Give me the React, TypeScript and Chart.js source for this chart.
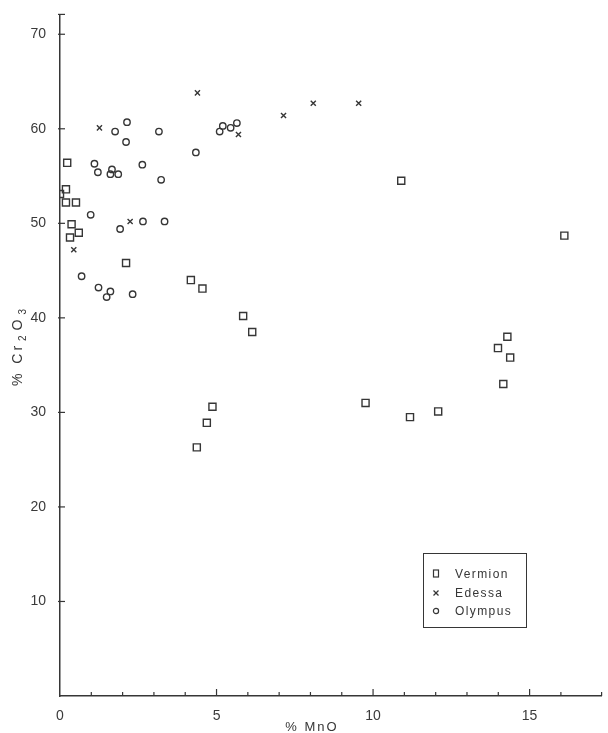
import React, { useEffect, useRef } from 'react';
import { Chart, registerables } from 'chart.js';

Chart.register(...registerables);

// % MnO (x) and % Cr2O3 (y) for each group
const vermionMnO = [0.23, 0.19, 0.0, 0.19, 0.51, 0.37, 0.6, 0.32, 2.11, 4.18, 4.55, 5.85, 6.14, 4.87, 4.69, 4.37, 9.76, 10.9, 16.11, 14.29, 13.99, 14.38, 14.16, 11.18, 12.08];
const vermionCr2O3 = [56.4, 53.6, 53.1, 52.2, 52.2, 49.9, 49.0, 48.5, 45.8, 44.0, 43.1, 40.2, 38.5, 30.6, 28.9, 26.3, 31.0, 54.5, 48.7, 38.0, 36.8, 35.8, 33.0, 29.5, 30.1];

const edessaMnO = [1.26, 4.39, 2.24, 0.44, 5.7, 7.14, 8.09, 9.54];
const edessaCr2O3 = [60.1, 63.8, 50.2, 47.2, 59.4, 61.4, 62.7, 62.7];

const olympusMnO = [1.76, 2.14, 2.11, 3.16, 4.34, 1.1, 1.21, 1.66, 1.61, 1.86, 2.63, 3.23, 0.98, 1.92, 2.65, 3.34, 0.69, 1.23, 1.61, 1.49, 2.32, 5.1, 5.2, 5.45, 5.65];
const olympusCr2O3 = [59.7, 60.7, 58.6, 59.7, 57.5, 56.3, 55.4, 55.7, 55.2, 55.2, 56.2, 54.6, 50.9, 49.4, 50.2, 50.2, 44.4, 43.2, 42.8, 42.2, 42.5, 59.7, 60.3, 60.1, 60.6];

const seriesNames = ['Vermion', 'Edessa', 'Olympus'];
const xMajorLabels = [0, 5, 10, 15];
const yTickLabels = [10, 20, 30, 40, 50, 60, 70];

const INK = '#363636';
const FONT = '"Liberation Sans", Arial, sans-serif';

const toPoints = (xs: number[], ys: number[]) => xs.map((x, i) => ({ x, y: ys[i] }));

const inwardTicks = {
  id: 'inwardTicks',
  afterDatasetsDraw(chart: any) {
    const { ctx, chartArea } = chart;
    const xs = chart.scales.x;
    const ys = chart.scales.y;
    ctx.save();
    ctx.strokeStyle = INK;
    ctx.lineWidth = 1.2;
    xs.ticks.forEach((t: any) => {
      if (t.value === 0) return;
      const px = xs.getPixelForValue(t.value);
      const len = t.value % 5 === 0 ? 7 : 4;
      ctx.beginPath();
      ctx.moveTo(px, chartArea.bottom);
      ctx.lineTo(px, chartArea.bottom - len);
      ctx.stroke();
    });
    ys.ticks.forEach((t: any) => {
      if (t.value === 0) return;
      const py = ys.getPixelForValue(t.value);
      ctx.beginPath();
      ctx.moveTo(chartArea.left - 2, py);
      ctx.lineTo(chartArea.left + 5, py);
      ctx.stroke();
    });
    ctx.restore();
  },
};

const axisTitles = {
  id: 'axisTitles',
  afterDraw(chart: any) {
    const { ctx } = chart;
    ctx.save();
    ctx.fillStyle = INK;
    ctx.textBaseline = 'alphabetic';
    // x title
    ctx.font = `13px ${FONT}`;
    (ctx as any).letterSpacing = '2px';
    ctx.textAlign = 'center';
    ctx.fillText('% MnO', 312, 731);
    // y title, rotated with subscripts
    ctx.translate(22, 345);
    ctx.rotate(-Math.PI / 2);
    const parts: [string, number, number][] = [
      ['% Cr', 14, 0],
      ['2', 10, 4],
      ['O', 14, 0],
      ['3', 10, 4],
    ];
    (ctx as any).letterSpacing = '3px';
    let total = 0;
    parts.forEach(([s, size]) => {
      ctx.font = `${size}px ${FONT}`;
      total += ctx.measureText(s).width + 2;
    });
    let cx = -total / 2;
    ctx.textAlign = 'left';
    parts.forEach(([s, size, dy]) => {
      ctx.font = `${size}px ${FONT}`;
      ctx.fillText(s, cx, dy);
      cx += ctx.measureText(s).width + 2;
    });
    ctx.restore();
  },
};

function LegendMark({ kind }: { kind: number }) {
  return (
    <svg width="10" height="10" style={{ display: 'block' }}>
      {kind === 0 && <rect x="2.5" y="1" width="5" height="7" fill="none" stroke={INK} strokeWidth="1.2" />}
      {kind === 1 && (
        <g stroke={INK} strokeWidth="1.2">
          <line x1="2.5" y1="2.5" x2="7.5" y2="7.5" />
          <line x1="7.5" y1="2.5" x2="2.5" y2="7.5" />
        </g>
      )}
      {kind === 2 && <circle cx="5" cy="5" r="2.6" fill="none" stroke={INK} strokeWidth="1.2" />}
    </svg>
  );
}

export default function App() {
  const canvasRef = useRef<HTMLCanvasElement | null>(null);

  useEffect(() => {
    if (!canvasRef.current) return;
    const common = {
      backgroundColor: 'rgba(0,0,0,0)',
      borderColor: INK,
      borderWidth: 1.4,
      showLine: false,
    };
    const chart = new Chart(canvasRef.current, {
      type: 'scatter',
      data: {
        datasets: [
          { ...common, label: seriesNames[0], data: toPoints(vermionMnO, vermionCr2O3), pointStyle: 'rect', pointRadius: 5 },
          { ...common, label: seriesNames[1], data: toPoints(edessaMnO, edessaCr2O3), pointStyle: 'crossRot', pointRadius: 3.6 },
          { ...common, label: seriesNames[2], data: toPoints(olympusMnO, olympusCr2O3), pointStyle: 'circle', pointRadius: 3.2 },
        ],
      },
      options: {
        animation: false,
        responsive: true,
        maintainAspectRatio: false,
        layout: { padding: { top: 12, right: 0, left: 0, bottom: 0 } },
        plugins: { legend: { display: false }, tooltip: { enabled: false } },
        scales: {
          x: {
            type: 'linear',
            min: 0,
            max: 17.3,
            grid: { display: false },
            border: { display: true, color: INK, width: 1.5 },
            ticks: {
              stepSize: 1,
              padding: 4,
              color: '#3a3a3a',
              font: { family: FONT, size: 14 },
              maxRotation: 0,
              autoSkip: false,
              callback: (v: any) => (xMajorLabels.includes(Number(v)) ? String(v) : ''),
            },
            afterFit: (s: any) => {
              s.height = 37;
            },
          },
          y: {
            type: 'linear',
            min: 0,
            max: 72.1,
            grid: { display: false },
            border: { display: true, color: INK, width: 1.5 },
            ticks: {
              stepSize: 10,
              padding: 6,
              color: '#3a3a3a',
              font: { family: FONT, size: 14 },
              callback: (v: any) => (yTickLabels.includes(Number(v)) ? String(v) : ''),
            },
            afterFit: (s: any) => {
              s.width = 60;
            },
          },
        },
      },
      plugins: [inwardTicks, axisTitles],
    });
    return () => chart.destroy();
  }, []);

  return (
    <div style={{ position: 'fixed', left: 0, top: 0, width: 608, height: 733, background: '#fff' }}>
      <canvas ref={canvasRef} />
      <div
        style={{
          position: 'absolute',
          left: 423,
          top: 553,
          width: 104,
          height: 75,
          boxSizing: 'border-box',
          border: `1px solid ${INK}`,
          fontFamily: FONT,
          fontSize: 12,
          letterSpacing: '1.4px',
          color: INK,
        }}
      >
        {seriesNames.map((name, i) => (
          <div
            key={name}
            style={{ position: 'absolute', left: 7, top: 11 + i * 18.5, height: 18, display: 'flex', alignItems: 'center' }}
          >
            <LegendMark kind={i} />
            <span style={{ marginLeft: 14, lineHeight: '18px' }}>{name}</span>
          </div>
        ))}
      </div>
    </div>
  );
}
